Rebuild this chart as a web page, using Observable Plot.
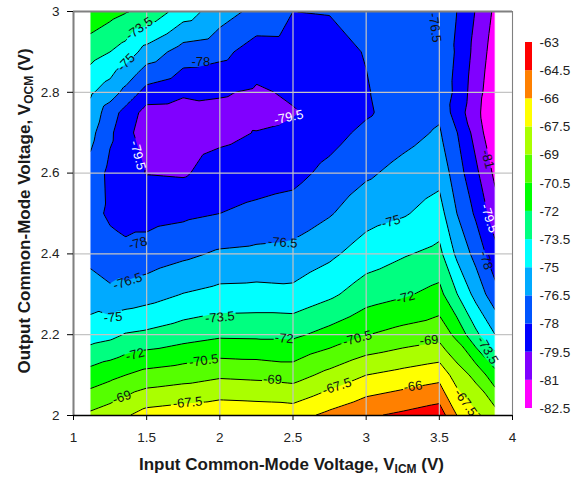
<!DOCTYPE html>
<html>
<head>
<meta charset="utf-8">
<script src="https://cdn.jsdelivr.net/npm/d3@7"></script>
<script src="https://cdn.jsdelivr.net/npm/@observablehq/plot@0.6"></script>
<style>
html,body{margin:0;padding:0;background:#fff}
#wrap{position:relative;width:578px;height:477px;overflow:hidden}
#wrap svg{position:absolute;top:0;background:none}
</style>
</head>
<body>
<div id="wrap"></div>
<script>
const xs = [1.116,1.25,1.356,1.5,1.75,2,2.25,2.5,2.75,3,3.25,3.5,3.62,3.75,3.885];
const ys = [2,2.1,2.2,2.3,2.4,2.5,2.6,2.7,2.75,2.8,2.9,3];
const c01 = [-68.7,-71.4,-74.2,-75.8,-76.9,-77.4,-77.0,-76.05,-75.45,-74.8,-72.9,-70.9];
const c02 = [-68.2,-70.9,-73.9,-76.2,-77.3,-78.3,-78.4,-77.75,-77.33,-75.75,-73.5,-71.5];
const c03 = [-67.65,-70.5,-73.4,-75.95,-77.6,-78.55,-79.0,-78.9,-78.5,-76.95,-74.1,-71.9];
const c04 = [-66.9,-70.0,-73.2,-75.64,-77.35,-78.55,-79.55,-80.5,-80.1,-78.55,-75.6,-72.3];
const c05 = [-66.6,-69.66,-72.67,-74.95,-76.82,-78.31,-79.65,-80.2,-80.2,-79.24,-77.18,-74.25];
const c06 = [-66.4,-69.24,-72.26,-74.55,-76.29,-78,-78.9,-79.85,-79.85,-79.36,-77.56,-75.8];
const c07 = [-66.5,-69.37,-72.3,-74.5,-76.14,-77.66,-78.65,-79.45,-80,-79.7,-78.7,-76.94];
const c08 = [-66.6,-69.63,-72.3,-74.6,-76.02,-77.39,-78.44,-79.19,-79.6,-79.29,-78.65,-78];
const c09 = [-65.6,-68.55,-71.48,-73.8,-75.31,-76.62,-77.6,-78.55,-79.1,-78.9,-78.45,-77.95];
const c10 = [-64.7,-67.5,-70.55,-72.71,-74.27,-75.6,-76.73,-77.64,-78.2,-78.1,-77.93,-77.6];
const c11 = [-64.2,-67,-69.98,-72.2,-73.65,-75.15,-76.05,-77,-77.3,-77.3,-77.1,-77];
const c12 = [-63.65,-66.53,-69.56,-71.54,-73.1,-74.39,-75.46,-76.33,-76.75,-76.9,-77,-77.2];
const c13 = [-66,-68.17,-70.9,-73.45,-75.32,-76.5,-77.29,-77.95,-78.75,-78.39,-78.17,-78];
const c14 = [-67.2,-69.45,-73.17,-75.51,-76.99,-78.25,-79.18,-80.08,-80.5,-80.35,-79.99,-79.59];
const c15 = [-68.4,-71.5,-75.05,-77.5,-79.1,-80.4,-81.4,-82.5,-82.6,-82.2,-81.8,-81.35];
const columns = [c01,c02,c03,c04,c05,c06,c07,c08,c09,c10,c11,c12,c13,c14,c15];

const levels = [-82.5,-81,-79.5,-78,-76.5,-75,-73.5,-72,-70.5,-69,-67.5,-66,-64.5,-63];
const bandColors = ["#ff00ff","#8000ff","#0000ff","#0055ff","#00aaff","#00ffff","#00ff80","#00ff00","#55ff00","#aaff00","#ffff00","#ff8000","#ff0000"];
const xTicks = [1,1.5,2,2.5,3,3.5,4];
const yTicks = [2,2.2,2.4,2.6,2.8,3];

const labelText = ["-73.5","-75","-78","-79.5","-79.5","-76.5","-81","-79.5","-78","-78","-76.5","-76.5","-75","-75","-73.5","-73.5","-72","-72","-72","-70.5","-70.5","-69","-69","-69","-67.5","-67.5","-67.5","-66"];
const labelX = [1.45,1.36,1.87,2.47,1.44,3.47,3.83,3.84,3.82,1.44,1.37,2.43,1.27,3.17,2.0,3.83,1.42,2.44,3.27,1.89,2.94,1.33,2.36,3.43,1.78,2.80,3.68,3.32];
const labelY = [2.958,2.874,2.876,2.738,2.644,2.96,2.634,2.488,2.384,2.426,2.332,2.428,2.243,2.48,2.243,2.161,2.151,2.191,2.292,2.136,2.191,2.045,2.089,2.186,2.032,2.072,2.032,2.072];
const labelAngle = [-35,-45,0,-12,75,82,75,72,72,-15,-18,4,-5,-15,-5,60,-15,4,-15,-8,-15,-18,3,-5,-5,-18,55,-8];
const whiteLabels = [3,4,7];

function measured(x, y) {
  const cx = Math.max(xs[0], Math.min(xs[xs.length-1], x));
  const cy = Math.max(ys[0], Math.min(ys[ys.length-1], y));
  const i = Math.min(d3.bisectRight(xs, cx) - 1, xs.length - 2);
  const j = Math.min(d3.bisectRight(ys, cy) - 1, ys.length - 2);
  const t = (cx - xs[i]) / (xs[i+1] - xs[i]);
  const u = (cy - ys[j]) / (ys[j+1] - ys[j]);
  const v00 = columns[i][j], v10 = columns[i+1][j], v01 = columns[i][j+1], v11 = columns[i+1][j+1];
  return t + u < 1
    ? v00 + t*(v10-v00) + u*(v01-v00)
    : v11 + (1-t)*(v01-v11) + (1-u)*(v10-v11);
}

const font = "'Liberation Sans', Arial, sans-serif";
const cuts = levels.slice(1, -1);
const colorScale = {type:"threshold", domain:cuts, range:bandColors};
const idx = d3.range(labelText.length);
const labelOpts = {
  x:i=>labelX[i], y:i=>labelY[i], text:i=>labelText[i], rotate:i=>labelAngle[i],
  fontSize:13, fontFamily:font
};

const main = Plot.plot({
  width:578, height:477, marginLeft:73, marginRight:66, marginTop:11, marginBottom:62,
  style:{background:"none", fontFamily:font},
  x:{domain:[1,4], axis:null},
  y:{domain:[2,3], axis:null},
  color:colorScale,
  marks:[
    Plot.contour({
      fill:measured, x1:1, x2:4, y1:2, y2:3,
      thresholds:[-90, ...cuts], pixelSize:1, clip:true
    }),
    Plot.contour({
      value:measured, x1:1, x2:4, y1:2, y2:3,
      thresholds:cuts, pixelSize:1, fill:"none", stroke:"#000", strokeWidth:1, clip:true
    }),
    Plot.rect([[1,xs[0]],[xs[xs.length-1],4]], {x1:d=>d[0], x2:d=>d[1], y1:2, y2:3, fill:"#fff", stroke:"#fff"}),
    Plot.ruleX(xTicks, {stroke:"#c4c4c4", strokeWidth:1.2}),
    Plot.ruleY(yTicks, {stroke:"#c4c4c4", strokeWidth:1.2}),
    Plot.text(idx.filter(i=>!whiteLabels.includes(i)), {...labelOpts, fill:"#111"}),
    Plot.text(whiteLabels, {...labelOpts, fill:"#fff"}),
    Plot.ruleX([1], {stroke:"#808080", strokeWidth:2}),
    Plot.ruleX([4], {stroke:"#808080", strokeWidth:1}),
    Plot.ruleY([3], {stroke:"#808080", strokeWidth:2}),
    Plot.ruleY([2], {stroke:"#000", strokeWidth:1.5}),
    Plot.axisX(xTicks, {tickSize:5, tickPadding:12, fontSize:13.5, tickFormat:d=>String(d), label:null, stroke:"#000", color:"#222"}),
    Plot.axisY(yTicks, {tickSize:6, tickPadding:8, fontSize:13.5, tickFormat:d=>String(d), label:null, stroke:"#000", color:"#222"})
  ]
});

/* break the contour lines behind their labels */
const sel = d3.select(main);
const mask = sel.append("defs").append("mask").attr("id", "labelGaps")
  .attr("maskUnits", "userSpaceOnUse").attr("x", 0).attr("y", 0).attr("width", 578).attr("height", 477);
mask.append("rect").attr("width", 578).attr("height", 477).attr("fill", "#fff");
const sx = main.scale("x"), sy = main.scale("y");
idx.forEach(i => {
  const w = labelText[i].length * 6.6, h = 12;
  mask.append("rect").attr("x", -w/2).attr("y", -h/2).attr("width", w).attr("height", h).attr("fill", "#000")
    .attr("transform", `translate(${sx.apply(labelX[i])},${sy.apply(labelY[i])}) rotate(${labelAngle[i]})`);
});
d3.select(main.querySelectorAll('g[aria-label="contour"]')[1]).attr("mask", "url(#labelGaps)");

function title(svg, parts, attrs) {
  const t = svg.append("text").attr("font-family", font).attr("font-weight", "bold")
    .attr("font-size", 17).attr("fill", "#1a1a1a").attr("text-anchor", "middle");
  Object.entries(attrs).forEach(([k, v]) => t.attr(k, v));
  let shifted = 0;
  parts.forEach(([s, sub]) => {
    const want = sub ? 3 : 0;
    t.append("tspan").attr("dy", want - shifted).attr("font-size", sub ? 12 : 17).text(s);
    shifted = want;
  });
}
title(sel, [["Input Common-Mode Voltage, V"],["ICM",1],[" (V)"]], {x:291.5, y:470});
title(sel, [["Output Common-Mode Voltage, V"],["OCM",1],[" (V)"]], {transform:"translate(30,211) rotate(-90)"});

const bands = d3.range(bandColors.length);
const legend = Plot.plot({
  width:54, height:477, marginLeft:1, marginRight:46, marginTop:0, marginBottom:0,
  style:{background:"none", fontFamily:font},
  x:{domain:[0,1], axis:null},
  y:{domain:[-82.5,-63], range:[408,42], axis:null},
  color:colorScale,
  marks:[
    Plot.rect(bands, {x1:0, x2:1, y1:i=>levels[i], y2:i=>levels[i+1], fill:i=>levels[i] === -82.5 ? -90 : levels[i]}),
    Plot.axisY(levels, {anchor:"right", tickSize:0, tickPadding:7, fontSize:13.5, tickFormat:d=>String(d), label:null, color:"#222"})
  ]
});
legend.style.left = "524px";
main.style.left = "0px";
const wrap = document.getElementById("wrap");
wrap.appendChild(main);
wrap.appendChild(legend);
</script>
</body>
</html>
